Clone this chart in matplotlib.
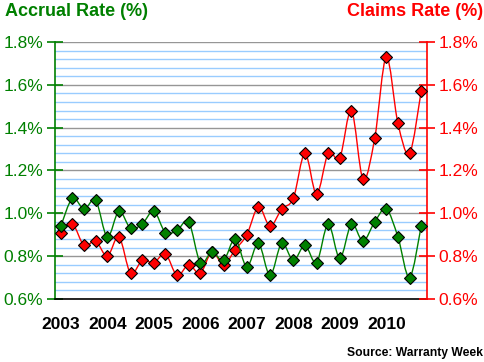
import numpy as np
import matplotlib
matplotlib.use('Agg')
import matplotlib.pyplot as plt
from matplotlib.path import Path
from matplotlib.patches import PathPatch
from matplotlib.ticker import MultipleLocator, FixedLocator, NullFormatter

plt.rcParams['font.family'] = ['Liberation Sans', 'DejaVu Sans']

years = ['2003', '2004', '2005', '2006', '2007', '2008', '2009', '2010']
accrual = [0.94, 1.07, 1.02, 1.06, 0.89, 1.01, 0.93, 0.95, 1.01, 0.91, 0.92, 0.96,
           0.77, 0.82, 0.78, 0.88, 0.75, 0.86, 0.71, 0.86, 0.78, 0.85, 0.77, 0.95,
           0.79, 0.95, 0.87, 0.96, 1.02, 0.89, 0.70, 0.94]
claims = [0.91, 0.95, 0.85, 0.87, 0.80, 0.89, 0.72, 0.78, 0.77, 0.81, 0.71, 0.76,
          0.72, 0.82, 0.76, 0.83, 0.90, 1.03, 0.94, 1.02, 1.07, 1.28, 1.09, 1.28,
          1.26, 1.48, 1.16, 1.35, 1.73, 1.42, 1.28, 1.57]

GREEN = '#008000'
RED = '#FF0000'


def smooth_path(x, y):
    x = np.asarray(x, float)
    y = np.asarray(y, float)
    n = len(x)
    verts = [(x[0], y[0])]
    codes = [Path.MOVETO]
    for i in range(n - 1):
        i0 = max(i - 1, 0)
        i3 = min(i + 2, n - 1)
        c1 = (x[i] + (x[i + 1] - x[i0]) / 6, y[i] + (y[i + 1] - y[i0]) / 6)
        c2 = (x[i + 1] - (x[i3] - x[i]) / 6, y[i + 1] - (y[i3] - y[i]) / 6)
        verts += [c1, c2, (x[i + 1], y[i + 1])]
        codes += [Path.CURVE4] * 3
    return Path(verts, codes)


W, H = 485, 362
fig = plt.figure(figsize=(W / 100, H / 100), dpi=100)
L, R, T, B = 55, 427, 42, 299
ax = fig.add_axes([L / W, 1 - B / H, (R - L) / W, (B - T) / H])
ax2 = ax.twinx()

n = len(accrual)
xs = np.arange(n)
for a in (ax, ax2):
    a.set_xlim(-0.5, n - 0.5)
    a.set_ylim(0.6, 1.8)
    a.yaxis.set_major_locator(MultipleLocator(0.2))

# gridlines
ax.yaxis.set_minor_locator(MultipleLocator(0.04))
ax.grid(which='minor', axis='y', color='#99CCFF', lw=1.0)
ax.grid(which='major', axis='y', color='#969696', lw=1.0)
ax.set_axisbelow(True)
ax.tick_params(axis='y', which='minor', length=0)
ax2.tick_params(axis='y', which='minor', length=0)

# series
ax2.add_patch(PathPatch(smooth_path(xs, claims), fill=False, edgecolor=RED, lw=1.0, zorder=3))
ax2.plot(xs, claims, ls='none', marker='D', ms=6.5, mfc=RED, mec='black', mew=0.8, zorder=4)
ax2.add_patch(PathPatch(smooth_path(xs, accrual), fill=False, edgecolor=GREEN, lw=1.0, zorder=5))
ax2.plot(xs, accrual, ls='none', marker='D', ms=6.5, mfc=GREEN, mec='black', mew=0.8, zorder=6)

# y axes
fmt = lambda v, p: f'{v:.1f}%'
ax.yaxis.set_major_formatter(plt.FuncFormatter(fmt))
ax2.yaxis.set_major_formatter(plt.FuncFormatter(fmt))
ax.tick_params(axis='y', which='major', direction='inout', length=11, width=1.2,
               color=GREEN, labelcolor=GREEN, labelsize=12.5, pad=3)
ax2.tick_params(axis='y', which='major', direction='inout', length=11, width=1.2,
                color=RED, labelcolor=RED, labelsize=12.5, pad=3)

for a in (ax, ax2):
    a.spines['top'].set_visible(False)
ax.spines['left'].set_color(GREEN)
ax.spines['left'].set_linewidth(1.2)
ax2.spines['right'].set_color(RED)
ax2.spines['right'].set_linewidth(1.2)
ax2.spines['left'].set_visible(False)
ax.spines['right'].set_visible(False)
ax.spines['bottom'].set_color('black')
ax.spines['bottom'].set_linewidth(1.2)
ax2.spines['bottom'].set_visible(False)

# x axis: ticks at quarter boundaries, year labels at first quarter
ax.xaxis.set_major_locator(FixedLocator(np.arange(-0.5, n, 1.0)))
ax.xaxis.set_major_formatter(NullFormatter())
ax.xaxis.set_minor_locator(FixedLocator(np.arange(0, n, 4)))
ax.set_xticklabels(years, minor=True)
ax.tick_params(axis='x', which='major', direction='inout', length=9, width=1.0, color='black')
ax.tick_params(axis='x', which='minor', length=0, pad=13, labelsize=12.5)
for lbl in ax.get_xticklabels(minor=True):
    lbl.set_fontweight('bold')
ax2.set_xticks([])

fig.text(5 / W, 1 - 3 / H, 'Accrual Rate (%)', color=GREEN, fontsize=13,
         fontweight='bold', ha='left', va='top')
fig.text(483 / W, 1 - 3 / H, 'Claims Rate (%)', color=RED, fontsize=13,
         fontweight='bold', ha='right', va='top')
fig.text(483 / W, 1 - 356 / H, 'Source: Warranty Week', color='black', fontsize=8.7,
         fontweight='bold', ha='right', va='baseline')

fig.savefig('out.png', dpi=100)
